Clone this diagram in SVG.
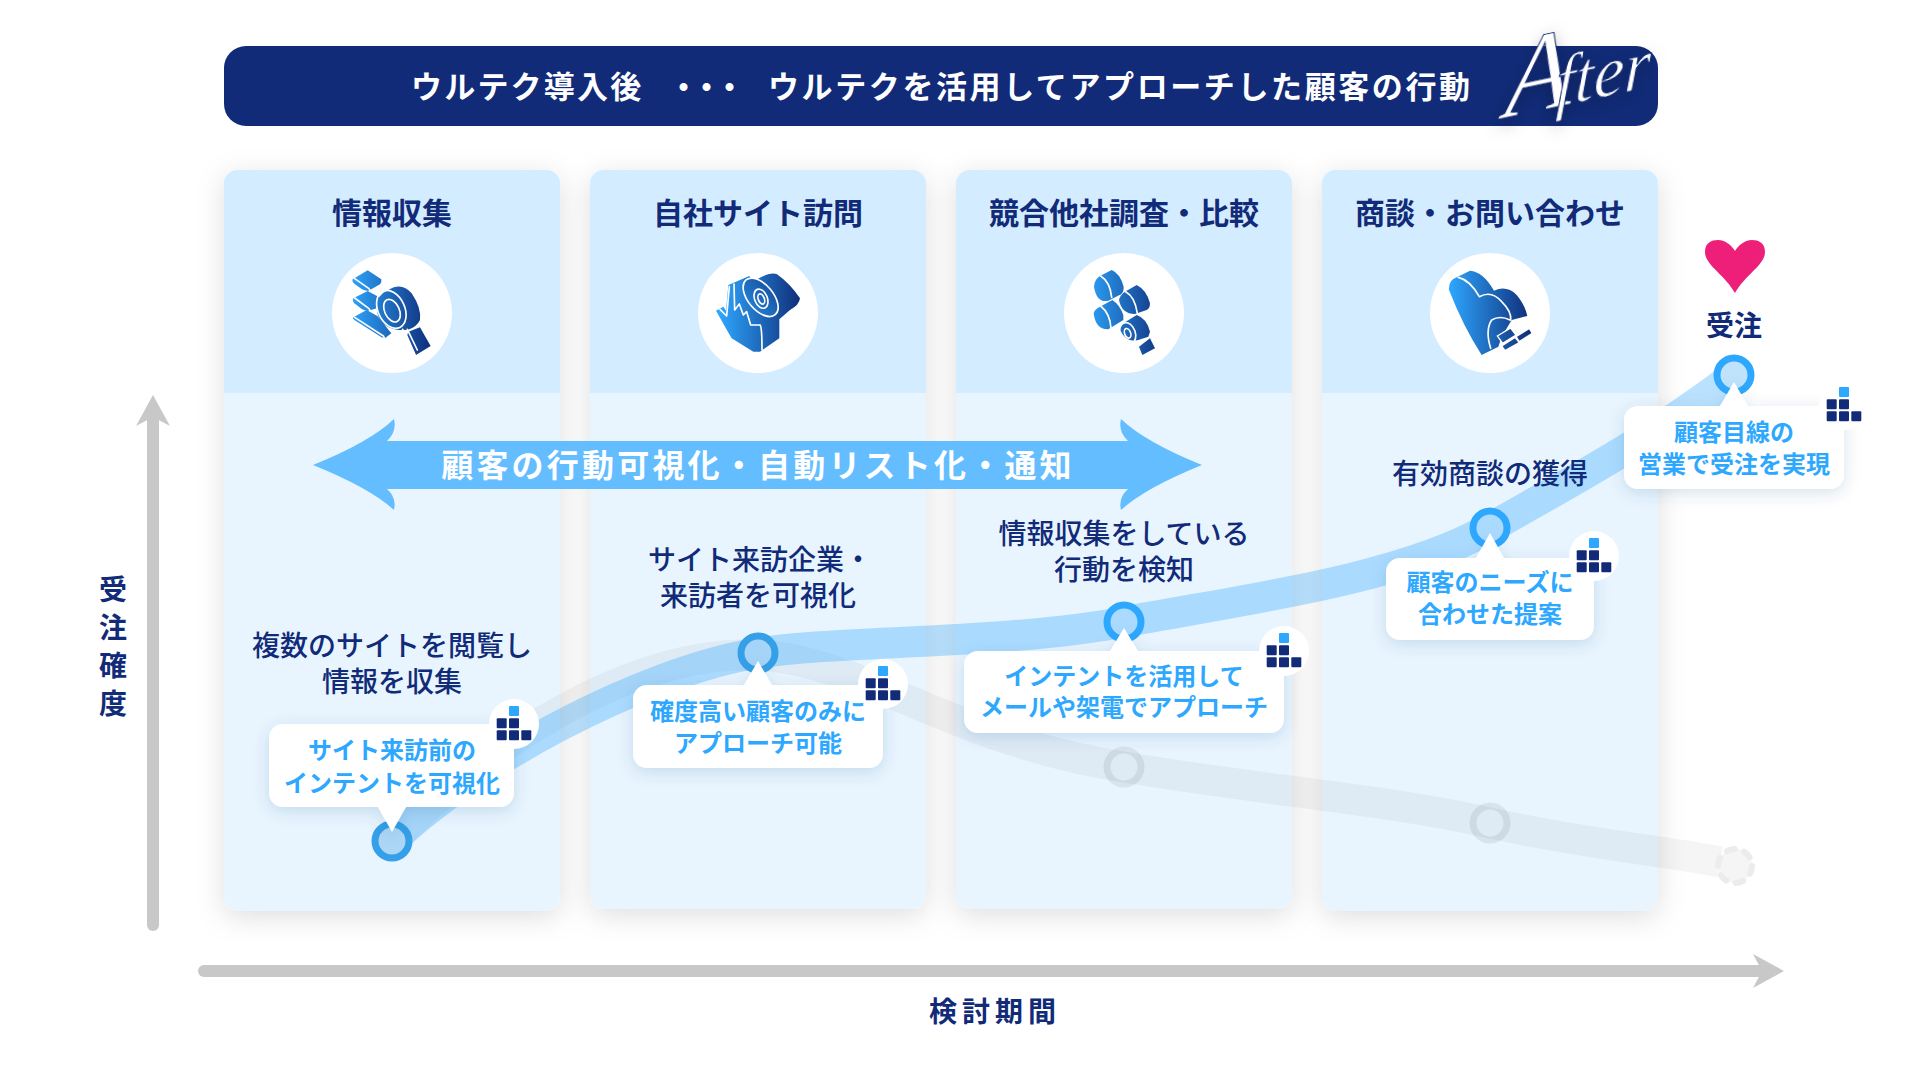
<svg xmlns="http://www.w3.org/2000/svg" width="1920" height="1080" viewBox="0 0 1920 1080">
<style>
text{font-family:"Noto Sans CJK JP","Noto Sans",sans-serif;text-anchor:middle;dominant-baseline:central}
.head{fill:#d4ecff}.body{fill:#e8f5ff}
.title{font-size:30px;font-weight:700;fill:#112b78}
.desc{font-size:28px;font-weight:500;fill:#112b78}
.tip{font-size:24px;font-weight:700;fill:#2ea8ff}
.axis{font-size:28px;font-weight:700;fill:#112b78}
.bub{fill:#fff}
.rib{fill:none;stroke:#2fa8ff;stroke-opacity:.33;stroke-width:31}
.grib{fill:none;stroke:#000;stroke-opacity:.04;stroke-width:31}
.ring{stroke:#2ea8ff;stroke-width:7;fill:none}
.gring{stroke:#000;stroke-opacity:.07;stroke-width:7;fill:none}
.ax{stroke:#c8c8c8;stroke-width:12;fill:none;stroke-linecap:round}
.w{fill:none;stroke:#fff;stroke-width:5;stroke-linecap:round;stroke-linejoin:round}
.g{fill:url(#ig)}
.wc{fill:#fff}
</style>
<defs>
<linearGradient id="ig" gradientUnits="userSpaceOnUse" x1="85" y1="0" x2="335" y2="0"><stop offset="0" stop-color="#2ea8ff"/><stop offset="1" stop-color="#0f2c78"/></linearGradient>
<filter id="cs" x="-20%" y="-15%" width="140%" height="130%"><feDropShadow dx="0" dy="6" stdDeviation="14" flood-color="#000" flood-opacity=".13"/></filter>
<filter id="bs" x="-20%" y="-30%" width="140%" height="170%"><feDropShadow dx="0" dy="4" stdDeviation="8" flood-color="#1a4a80" flood-opacity=".16"/></filter>
<filter id="as" x="-20%" y="-20%" width="140%" height="150%"><feDropShadow dx="0" dy="5" stdDeviation="8" flood-color="#000" flood-opacity=".25"/></filter>
<marker id="ah" markerUnits="userSpaceOnUse" markerWidth="32" markerHeight="34" viewBox="0 0 32 34" refX="9" refY="17" orient="auto"><path d="M0 0L31 17L0 34L9 17Z" fill="#c8c8c8"/></marker>
<g id="mini">
<rect x="-5" y="-18" width="10" height="10" rx="1" fill="#2ea8ff"/>
<g fill="#112b78"><rect x="-17.3" y="-5.8" width="10" height="10" rx="1"/><rect x="-5" y="-5.8" width="10" height="10" rx="1"/><rect x="-17.3" y="6.2" width="10" height="10" rx="1"/><rect x="-5" y="6.2" width="10" height="10" rx="1"/><rect x="7.3" y="6.2" width="10" height="10" rx="1"/></g>
</g>
</defs>

<rect id="banner" x="224" y="46" width="1434" height="80" rx="22" fill="#112b78"/>
<text class="banner-text" y="83.5" font-size="31" font-weight="700" fill="#fff" style="text-anchor:start"><tspan x="411" letter-spacing="2.2">ウルテク導入後</tspan><tspan x="668" letter-spacing="-8">・・・</tspan><tspan x="768" letter-spacing="2.6">ウルテクを活用してアプローチした顧客の行動</tspan></text>
<text id="after" transform="translate(1504 118) rotate(-12) skewX(-14)" fill="#fff" stroke="#112b78" stroke-width="1.2" style="font-family:'Liberation Serif',serif;font-style:italic;text-anchor:start;dominant-baseline:auto;filter:url(#as)"><tspan font-size="112">A</tspan><tspan font-size="70" dx="-16">fter</tspan></text>

<g id="col1"><g filter="url(#cs)"><rect class="body" x="224" y="170" width="336" height="741" rx="14"/></g><path class="head" d="M224 393V184a14 14 0 0 1 14-14H546a14 14 0 0 1 14 14V393Z"/></g>
<g id="col2"><g filter="url(#cs)"><rect class="body" x="590" y="170" width="336" height="739" rx="14"/></g><path class="head" d="M590 393V184a14 14 0 0 1 14-14H912a14 14 0 0 1 14 14V393Z"/></g>
<g id="col3"><g filter="url(#cs)"><rect class="body" x="956" y="170" width="336" height="739" rx="14"/></g><path class="head" d="M956 393V184a14 14 0 0 1 14-14H1278a14 14 0 0 1 14 14V393Z"/></g>
<g id="col4"><g filter="url(#cs)"><rect class="body" x="1322" y="170" width="336" height="741" rx="14"/></g><path class="head" d="M1322 393V184a14 14 0 0 1 14-14H1644a14 14 0 0 1 14 14V393Z"/></g>

<g id="connectors">
<path class="grib" d="M392 841C470 760 620 650 758 655C860 660 950 740 1124 767C1260 790 1390 800 1490 823C1590 845 1660 850 1720 862"/>
<path class="rib" d="M392 841C470 765 640 672 758 653C840 640 1000 645 1124 622C1240 600 1400 580 1490 528C1570 482 1650 440 1735 375"/>
<line class="ax" x1="153" y1="925" x2="153" y2="417" marker-end="url(#ah)"/>
<line class="ax" x1="204" y1="971" x2="1762" y2="971" marker-end="url(#ah)"/>
</g>

<g id="col-titles">
<text class="title" x="392" y="211">情報収集</text>
<text class="title" x="758" y="211">自社サイト訪問</text>
<text class="title" x="1124" y="211">競合他社調査・比較</text>
<text class="title" x="1490" y="211">商談・お問い合わせ</text>
</g>

<g id="icon1"><circle class="wc" cx="392" cy="313" r="60"/>
<g transform="translate(320 240) scale(.3333)">
<path class="g" d="M98 118L143 91L184 118Q186 128 180 133L146 152Q136 154 125 147L103 131Q95 124 98 118Z"/><path class="w" d="M104 116L146 145Q150 148 150 154"/>
<path class="g" d="M100 175L143 153L178 172L170 205L146 212Q136 214 125 207L103 190Q96 182 100 175Z"/><path class="w" d="M104 174L146 205Q150 208 150 214"/>
<path class="g" d="M100 232L140 210L172 228L214 280L195 295L185 292L103 240Q96 236 100 232Z"/><path class="w" d="M104 232L190 288L194 296"/>
<path class="g" d="M205 150Q245 125 275 160Q305 205 300 240Q290 262 262 270L235 270Q170 260 170 200Q170 165 205 150Z"/>
<path class="g" d="M265 275L300 262L332 318L288 345L262 285Z"/>
<ellipse class="w" cx="214" cy="208" rx="40" ry="60" transform="rotate(-25 214 208)"/>
<ellipse class="w" cx="216" cy="212" rx="22" ry="36" transform="rotate(-25 216 212)"/>
<path class="w" d="M248 268L284 343"/><path class="w" d="M262 268L292 330"/>
</g></g>

<g id="icon2"><circle class="wc" cx="758" cy="313" r="60"/>
<g transform="translate(690 240) scale(.3333)">
<path class="g" d="M78 212L100 200L108 212L115 135L178 108L190 125Q235 95 260 102Q300 130 330 175Q328 195 300 210L268 238V295L210 335H190L125 295Q105 260 78 212Z"/>
<ellipse class="g" cx="212" cy="172" rx="38" ry="68" transform="rotate(-40 212 172)" style="stroke:#fff;stroke-width:5"/>
<ellipse class="w" cx="213" cy="176" rx="19" ry="30" transform="rotate(-22 213 176)"/>
<ellipse class="w" cx="214" cy="177" rx="9" ry="16" transform="rotate(-22 214 177)"/>
<path class="w" d="M90 208L110 228L118 140M132 132L134 210M134 210L148 192L160 225M160 225L170 215L182 255M182 255L210 255Q216 260 216 330"/>
</g></g>

<g id="icon3"><circle class="wc" cx="1124" cy="313" r="60"/>
<g transform="translate(1055 240) scale(.3333)">
<path class="g" d="M135 108L170 90Q195 100 206 140Q207 155 198 163L160 182Q125 190 117 140Q118 118 135 108Z"/><path class="w" d="M137 108Q165 125 170 172"/>
<path class="g" d="M210 155L245 135Q275 150 285 190Q285 205 275 210L240 222Q200 222 192 180Q195 165 210 155Z"/><path class="w" d="M212 155Q240 170 247 220"/>
<path class="g" d="M135 200L172 180Q195 195 205 225V240L160 268Q122 270 116 220Q118 208 135 200Z"/><path class="w" d="M137 198Q165 220 168 265"/>
<path class="g" d="M205 250L245 225Q275 235 285 275L280 290L250 300Q215 310 195 270Q195 258 205 250Z"/>
<ellipse class="w" cx="218" cy="280" rx="23" ry="33" transform="rotate(-20 218 280)"/>
<ellipse class="w" cx="218" cy="280" rx="9" ry="15" transform="rotate(-20 218 280)"/>
<path class="g" d="M252 320L285 295L300 325L262 345Z"/><path class="w" d="M238 312L258 345"/>
</g></g>

<g id="icon4"><circle class="wc" cx="1490" cy="313" r="60"/>
<g transform="translate(1420 240) scale(.3333)">
<path class="g" d="M87 150Q85 120 110 112L150 92Q190 95 222 152Q260 135 290 165Q315 195 322 228L275 240L245 290L235 320L185 345Q130 260 87 150Z"/>
<path class="w" d="M115 112Q150 120 178 170Q215 150 245 185Q275 215 272 240"/>
<path class="w" d="M212 325Q195 270 215 240Q240 225 270 240"/>
<path class="g" d="M232 288L272 264L288 285L248 310Z" style="stroke:#fff;stroke-width:4"/>
<path class="g" d="M245 318L285 292L298 308L255 332Z" style="stroke:#fff;stroke-width:4"/>
<path class="g" d="M288 290L328 265L337 280L298 305Z" style="stroke:#fff;stroke-width:4"/>
</g></g>

<path id="both-arrow" d="M313 465Q370 442 394 419Q397 432 387 441H1128Q1118 432 1121 419Q1145 442 1202 465Q1145 488 1121 510Q1118 498 1128 489H387Q397 498 394 510Q370 488 313 465Z" fill="#63bdff"/>
<text x="758" y="463" font-size="32" font-weight="700" fill="#fff" letter-spacing="3.2">顧客の行動可視化・自動リスト化・通知</text>

<g id="step1"><circle cx="392" cy="841" r="17" fill="#acd6f5" stroke="#359fe8" stroke-width="7"/>
<text class="desc" x="392" y="644">複数のサイトを閲覧し</text><text class="desc" x="392" y="680">情報を収集</text>
<path class="bub" filter="url(#bs)" d="M283 724H500a14 14 0 0 1 14 14V793a14 14 0 0 1-14 14H406L392 832L378 807H283a14 14 0 0 1-14-14V738a14 14 0 0 1 14-14Z"/>
<text class="tip" x="392" y="748">サイト来訪前の</text><text class="tip" x="392" y="781">インテントを可視化</text>
<circle cx="514" cy="724" r="25" fill="#fff"/><use href="#mini" x="514" y="724"/></g>

<g id="step2"><circle cx="758" cy="653" r="17" fill="none" stroke="#359fe8" stroke-width="7"/>
<text class="desc" x="760" y="558">サイト来訪企業・</text><text class="desc" x="758" y="594">来訪者を可視化</text>
<path class="bub" filter="url(#bs)" d="M647 685H744L758 661L772 685H869a14 14 0 0 1 14 14V754a14 14 0 0 1-14 14H647a14 14 0 0 1-14-14V699a14 14 0 0 1 14-14Z"/>
<text class="tip" x="758" y="709">確度高い顧客のみに</text><text class="tip" x="758" y="741">アプローチ可能</text>
<circle cx="883" cy="684" r="25" fill="#fff"/><use href="#mini" x="883" y="684"/></g>

<g id="step3"><circle class="ring" cx="1124" cy="622" r="17"/>
<text class="desc" x="1124" y="532">情報収集をしている</text><text class="desc" x="1124" y="568">行動を検知</text>
<path class="bub" filter="url(#bs)" d="M978 651H1110L1124 628L1138 651H1270a14 14 0 0 1 14 14V719a14 14 0 0 1-14 14H978a14 14 0 0 1-14-14V665a14 14 0 0 1 14-14Z"/>
<text class="tip" x="1124" y="674">インテントを活用して</text><text class="tip" x="1124" y="705">メールや架電でアプローチ</text>
<circle cx="1284" cy="651" r="25" fill="#fff"/><use href="#mini" x="1284" y="651"/></g>

<g id="step4"><circle class="ring" cx="1490" cy="528" r="17"/>
<text class="desc" x="1490" y="472">有効商談の獲得</text>
<path class="bub" filter="url(#bs)" d="M1400 558H1476L1490 533L1504 558H1580a14 14 0 0 1 14 14V626a14 14 0 0 1-14 14H1400a14 14 0 0 1-14-14V572a14 14 0 0 1 14-14Z"/>
<text class="tip" x="1490" y="580">顧客のニーズに</text><text class="tip" x="1490" y="612">合わせた提案</text>
<circle cx="1594" cy="556" r="25" fill="#fff"/><use href="#mini" x="1594" y="556"/></g>

<g id="step5"><circle cx="1734" cy="375" r="17" fill="#bfe3fb" stroke="#2ea8ff" stroke-width="7"/>
<path id="heart" d="M1735 293C1725 275 1705 265 1705 252C1705 243 1711 240 1718 240C1726 240 1732 246 1735 251C1738 246 1744 240 1752 240C1759 240 1765 243 1765 252C1765 265 1745 275 1735 293Z" fill="#ee1f78"/>
<text class="axis" x="1734" y="324">受注</text>
<path class="bub" filter="url(#bs)" d="M1638 406H1720L1734 382L1748 406H1830a14 14 0 0 1 14 14V475a14 14 0 0 1-14 14H1638a14 14 0 0 1-14-14V420a14 14 0 0 1 14-14Z"/>
<text class="tip" x="1734" y="430">顧客目線の</text><text class="tip" x="1734" y="462">営業で受注を実現</text>
<circle cx="1844" cy="405" r="25" fill="#fff"/><use href="#mini" x="1844" y="405"/></g>

<g id="lost-steps">
<circle class="gring" cx="1124" cy="767" r="17"/>
<circle class="gring" cx="1490" cy="823" r="17"/>
<circle cx="1735" cy="866" r="17" fill="#f5f5f5" stroke="#ececec" stroke-width="6" stroke-dasharray="8 9.8" stroke-linecap="round"/>
</g>

<g id="axis-labels">
<text class="axis" x="113" y="588">受</text><text class="axis" x="113" y="626">注</text><text class="axis" x="113" y="664">確</text><text class="axis" x="113" y="702">度</text>
<text class="axis" x="995" y="1010" letter-spacing="5">検討期間</text>
</g>
</svg>
